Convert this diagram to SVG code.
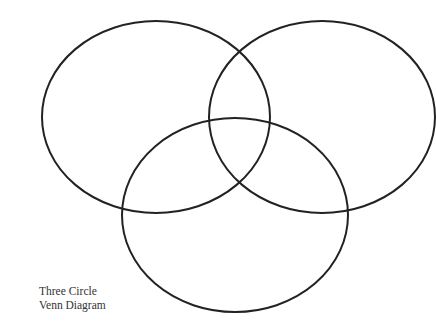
<svg xmlns="http://www.w3.org/2000/svg" width="436" height="327" viewBox="0 0 436 327">
<style>
.c{fill:none;stroke:#222;stroke-width:2}
.t{font-family:"Liberation Serif",serif;font-size:11.5px;fill:#333}
</style>
<rect width="436" height="327" fill="#fff"/>
<g id="connectors"/>
<g id="circle-a"><ellipse class="c" cx="156" cy="117" rx="114" ry="96"/></g>
<g id="circle-b"><ellipse class="c" cx="322" cy="117" rx="113" ry="96"/></g>
<g id="circle-c"><ellipse class="c" cx="235" cy="215" rx="113" ry="97"/></g>
<g id="label"><text class="t" x="39" y="295">Three Circle</text><text class="t" x="39" y="308.5">Venn Diagram</text></g>
</svg>
